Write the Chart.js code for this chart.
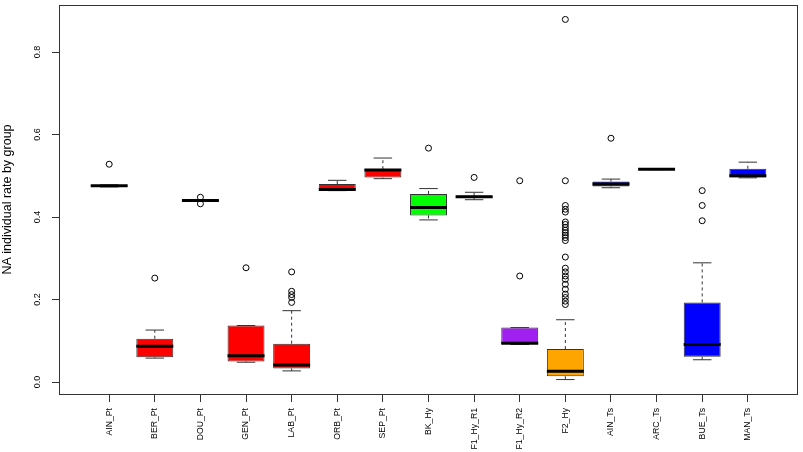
<!DOCTYPE html>
<html>
<head>
<meta charset="utf-8">
<script src="https://cdn.jsdelivr.net/npm/chart.js@4.4.1/dist/chart.umd.min.js"></script>
<style>
  html, body { margin: 0; padding: 0; background: #fff; }
  #wrap { width: 803px; height: 452px; position: relative; }
</style>
</head>
<body>
<div id="wrap"><canvas id="chart"></canvas></div>
<script>
// groups along the x axis
const categories = ['AIN_Pt', 'BER_Pt', 'DOU_Pt', 'GEN_Pt', 'LAB_Pt', 'ORB_Pt', 'SEP_Pt',
    'BK_Hy', 'F1_Hy_R1', 'F1_Hy_R2', 'F2_Hy', 'AIN_Ts', 'ARC_Ts', 'BUE_Ts', 'MAN_Ts'];

// box statistics
const whiskerLow  = [0.473, 0.058, 0.439, 0.048, 0.027, 0.464, 0.493, 0.393, 0.442, 0.091, 0.006, 0.471, 0.515, 0.054, 0.495];
const q1          = [0.474, 0.060, 0.439, 0.050, 0.033, 0.465, 0.496, 0.404, 0.446, 0.092, 0.014, 0.474, 0.515, 0.061, 0.496];
const medians     = [0.476, 0.087, 0.440, 0.064, 0.041, 0.467, 0.514, 0.423, 0.449, 0.094, 0.026, 0.480, 0.516, 0.091, 0.500];
const q3          = [0.477, 0.105, 0.441, 0.137, 0.093, 0.480, 0.516, 0.456, 0.452, 0.132, 0.080, 0.486, 0.516, 0.193, 0.517];
const whiskerHigh = [0.478, 0.126, 0.441, 0.137, 0.173, 0.489, 0.543, 0.469, 0.460, 0.132, 0.151, 0.492, 0.516, 0.289, 0.533];

const outliers = [
    [0.528],
    [0.252],
    [0.448, 0.432],
    [0.277],
    [0.267, 0.220, 0.212, 0.205, 0.193],
    [],
    [],
    [0.567],
    [0.496],
    [0.488, 0.257],
    [0.879, 0.488, 0.428, 0.419, 0.412, 0.388, 0.382, 0.375, 0.368, 0.362, 0.356, 0.350, 0.343,
     0.303, 0.276, 0.267, 0.257, 0.249, 0.237, 0.225, 0.213, 0.205, 0.196, 0.188],
    [0.591],
    [],
    [0.464, 0.428, 0.391],
    []
];

const boxColors = ['#FF0000', '#FF0000', '#FF0000', '#FF0000', '#FF0000', '#FF0000', '#FF0000',
    '#00FF00', '#A020F0', '#A020F0', '#FFA500', '#0000FF', '#0000FF', '#0000FF', '#0000FF'];

const yTicks = [0.0, 0.2, 0.4, 0.6, 0.8];

const FONT = '"Liberation Sans", Arial, Helvetica, sans-serif';
const LINE = '#333';

// whiskers, caps, medians, frame and rotated y labels
const boxplotExtras = {
    id: 'boxplotExtras',
    beforeDatasetsDraw(chart) {
        const ctx = chart.ctx;
        const x = chart.scales.x, y = chart.scales.y;
        const bars = chart.getDatasetMeta(0).data;
        ctx.save();
        ctx.strokeStyle = LINE;
        ctx.lineWidth = 1;
        categories.forEach((c, i) => {
            const cx = x.getPixelForValue(i);
            const half = bars[i].width / 4;
            ctx.setLineDash([3, 3]);
            ctx.beginPath();
            ctx.moveTo(cx, y.getPixelForValue(q3[i]));
            ctx.lineTo(cx, y.getPixelForValue(whiskerHigh[i]));
            ctx.moveTo(cx, y.getPixelForValue(q1[i]));
            ctx.lineTo(cx, y.getPixelForValue(whiskerLow[i]));
            ctx.stroke();
            ctx.setLineDash([]);
            ctx.beginPath();
            ctx.moveTo(cx - half, y.getPixelForValue(whiskerHigh[i]));
            ctx.lineTo(cx + half, y.getPixelForValue(whiskerHigh[i]));
            ctx.moveTo(cx - half, y.getPixelForValue(whiskerLow[i]));
            ctx.lineTo(cx + half, y.getPixelForValue(whiskerLow[i]));
            ctx.stroke();
        });
        ctx.restore();
    },
    afterDatasetsDraw(chart) {
        const ctx = chart.ctx;
        const x = chart.scales.x, y = chart.scales.y;
        const bars = chart.getDatasetMeta(0).data;
        ctx.save();
        ctx.strokeStyle = '#000';
        ctx.lineWidth = 3;
        categories.forEach((c, i) => {
            const cx = x.getPixelForValue(i);
            const half = bars[i].width / 2;
            const my = y.getPixelForValue(medians[i]);
            ctx.beginPath();
            ctx.moveTo(cx - half, my);
            ctx.lineTo(cx + half, my);
            ctx.stroke();
        });
        ctx.restore();
    },
    afterDraw(chart) {
        const ctx = chart.ctx;
        const a = chart.chartArea;
        ctx.save();
        ctx.strokeStyle = LINE;
        ctx.lineWidth = 1;
        ctx.strokeRect(a.left + 0.5, a.top + 0.5, a.right - a.left - 1, a.bottom - a.top);
        // y tick labels, parallel to the axis like R
        const y = chart.scales.y;
        ctx.fillStyle = '#000';
        ctx.font = '9px ' + FONT;
        ctx.textAlign = 'center';
        ctx.textBaseline = 'middle';
        yTicks.forEach(v => {
            ctx.save();
            ctx.translate(38, y.getPixelForValue(v));
            ctx.rotate(-Math.PI / 2);
            ctx.fillText(v.toFixed(1), 0, 0);
            ctx.restore();
        });
        ctx.restore();
    }
};

const outlierPoints = [];
outliers.forEach((list, i) => list.forEach(v => outlierPoints.push({ x: i, y: v })));

new Chart(document.getElementById('chart'), {
    type: 'bar',
    data: {
        datasets: [{
            label: 'box',
            data: categories.map((c, i) => ({ x: i, y: [q1[i], q3[i]] })),
            backgroundColor: boxColors,
            borderColor: LINE,
            borderWidth: 1,
            borderSkipped: false,
            barPercentage: 0.9,
            categoryPercentage: 0.9,
            order: 2
        }, {
            type: 'scatter',
            label: 'outliers',
            data: outlierPoints,
            pointStyle: 'circle',
            pointRadius: 3,
            borderColor: '#000',
            backgroundColor: 'rgba(0,0,0,0)',
            borderWidth: 1,
            order: 1
        }]
    },
    options: {
        responsive: true,
        maintainAspectRatio: false,
        animation: false,
        devicePixelRatio: 1,
        layout: { padding: { top: 2, right: 2, left: 0, bottom: 0 } },
        plugins: { legend: { display: false }, tooltip: { enabled: false } },
        scales: {
            x: {
                type: 'linear',
                offset: false,
                min: -1.1,
                max: 15.1,
                afterBuildTicks: (scale) => { scale.ticks = categories.map((c, i) => ({ value: i })); },
                afterFit: (scale) => { scale.height = 58; },
                ticks: {
                    autoSkip: false,
                    minRotation: 90,
                    maxRotation: 90,
                    padding: 6,
                    color: '#000',
                    font: { family: FONT, size: 8.7 },
                    callback: (v) => categories[v]
                },
                grid: { offset: false, drawOnChartArea: false, drawTicks: true, tickLength: 8, tickColor: LINE },
                border: { display: false }
            },
            y: {
                min: -0.029,
                max: 0.914,
                afterBuildTicks: (scale) => { scale.ticks = yTicks.map(v => ({ value: v })); },
                afterFit: (scale) => { scale.width = 59; },
                ticks: { display: false },
                grid: { drawOnChartArea: false, drawTicks: true, tickLength: 7, tickColor: LINE },
                border: { display: false },
                title: {
                    display: true,
                    text: 'NA individual rate by group',
                    color: '#000',
                    padding: 0,
                    font: { family: FONT, size: 12.5 }
                }
            }
        }
    },
    plugins: [boxplotExtras]
});
</script>
</body>
</html>
